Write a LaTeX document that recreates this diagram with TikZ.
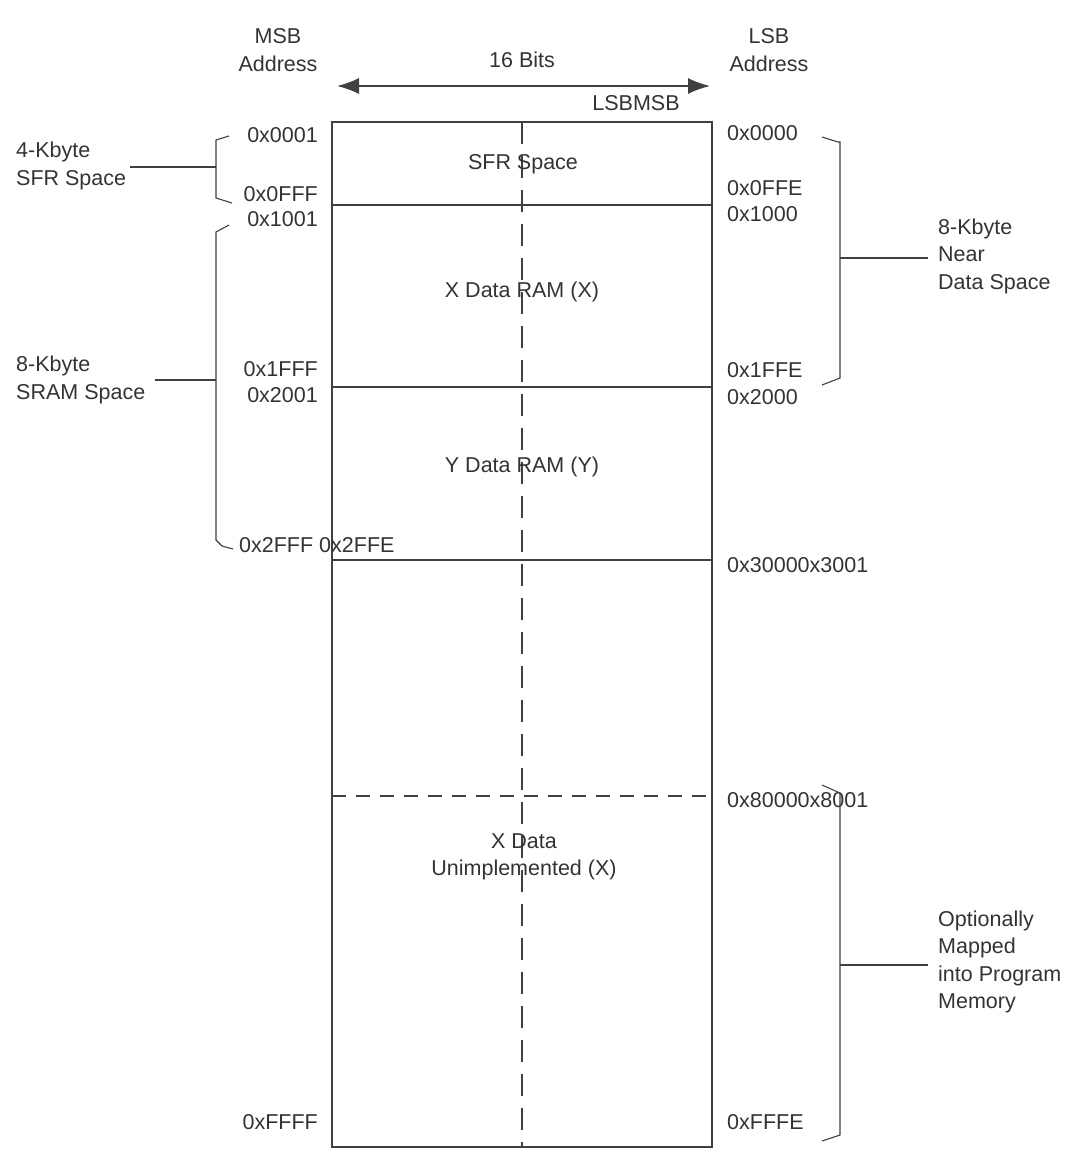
\documentclass[tikz,border=0pt]{standalone}
\usepackage{fontspec}
\setmainfont{Liberation Sans}
\usetikzlibrary{arrows.meta}
\begin{document}
\begin{tikzpicture}[x=1pt,y=-1pt,
  txt/.style={inner sep=0pt,font=\fontsize{21.5}{27.5}\selectfont,text=black!80},
  ln/.style={draw=black!75,line width=1.1pt},
  lbl/.style={txt,anchor=west,align=left},
  rl/.style={txt,anchor=east},
  ll/.style={txt,anchor=west}]
\useasboundingbox (0,0) rectangle (1079,1154);
% box
\draw[ln] (332,122) rectangle (712,1147);
\coordinate (b1l) at (332,205); \coordinate (b1r) at (712,205);
\coordinate (b2l) at (332,387); \coordinate (b2r) at (712,387);
\coordinate (b3l) at (332,560); \coordinate (b3r) at (712,560);
\coordinate (b4l) at (332,796); \coordinate (b4r) at (712,796);
\draw[ln] (b1l)--(b1r); \draw[ln] (b2l)--(b2r); \draw[ln] (b3l)--(b3r);
\draw[ln,dash pattern=on 14pt off 10pt] (b4l)--(b4r);
\coordinate (vt) at (522,122); \coordinate (vb) at (522,1147);
\draw[ln,dash pattern=on 22pt off 12pt] (vt)--(vb);
% arrow
\coordinate (al) at (337,86); \coordinate (ar) at (710,86);
\draw[ln,line width=1.6pt,{Latex[length=22pt,width=16pt]}-{Latex[length=22pt,width=16pt]}] (al)--(ar);
\node[txt] (bits) at (522,60) {16 Bits};
\node[txt] (lm) at (636,103) {LSBMSB};
\node[txt,align=center] (msb) at (278,50) {MSB\\Address};
\node[txt,align=center] (lsb) at (769,50) {LSB\\Address};
% region labels
\node[txt] (sfr) at (523,164) {SFR Space};
\node[txt] (xr) at (522,292) {X Data RAM (X)};
\node[txt] (yr) at (522,467) {Y Data RAM (Y)};
\node[txt,align=center] (xu) at (524,857) {X Data\\Unimplemented (X)};
% left addresses
\node[rl] at (318,135) {0x0001};
\node[rl] at (318,194) {0x0FFF};
\node[rl] at (318,219) {0x1001};
\node[rl] at (318,369) {0x1FFF};
\node[rl] at (318,395) {0x2001};
\node[ll] at (239,545) {0x2FFF 0x2FFE};
\node[rl] at (318,1122) {0xFFFF};
% right addresses
\node[ll] at (727,133) {0x0000};
\node[ll] at (727,188) {0x0FFE};
\node[ll] at (727,214) {0x1000};
\node[ll] at (727,370) {0x1FFE};
\node[ll] at (727,397) {0x2000};
\node[ll] at (727,565) {0x30000x3001};
\node[ll] at (727,800) {0x80000x8001};
\node[ll] at (727,1122) {0xFFFE};
% left brackets
\draw[ln] (229,136)--(216,140)--(216,198)--(232,203);
\draw[ln] (130,167)--(216,167);
\draw[ln] (229,225)--(216,232)--(216,540)--(222,546)--(233,549);
\draw[ln] (155,380)--(216,380);
\node[lbl] (l1) at (16,166) {4-Kbyte\\SFR Space};
\node[lbl] (l2) at (16,380) {8-Kbyte\\SRAM Space};
% right brackets
\draw[ln] (822,137)--(838,142)--(840,142)--(840,378)--(822,385);
\draw[ln] (840,258)--(928,258);
\draw[ln] (822,785)--(840,793)--(840,1135)--(822,1141);
\draw[ln] (840,965)--(928,965);
\node[lbl] (r1) at (938,256) {8-Kbyte\\Near\\Data Space};
\node[lbl] (r2) at (938,962) {Optionally\\Mapped\\into Program\\Memory};
\end{tikzpicture}
\end{document}
